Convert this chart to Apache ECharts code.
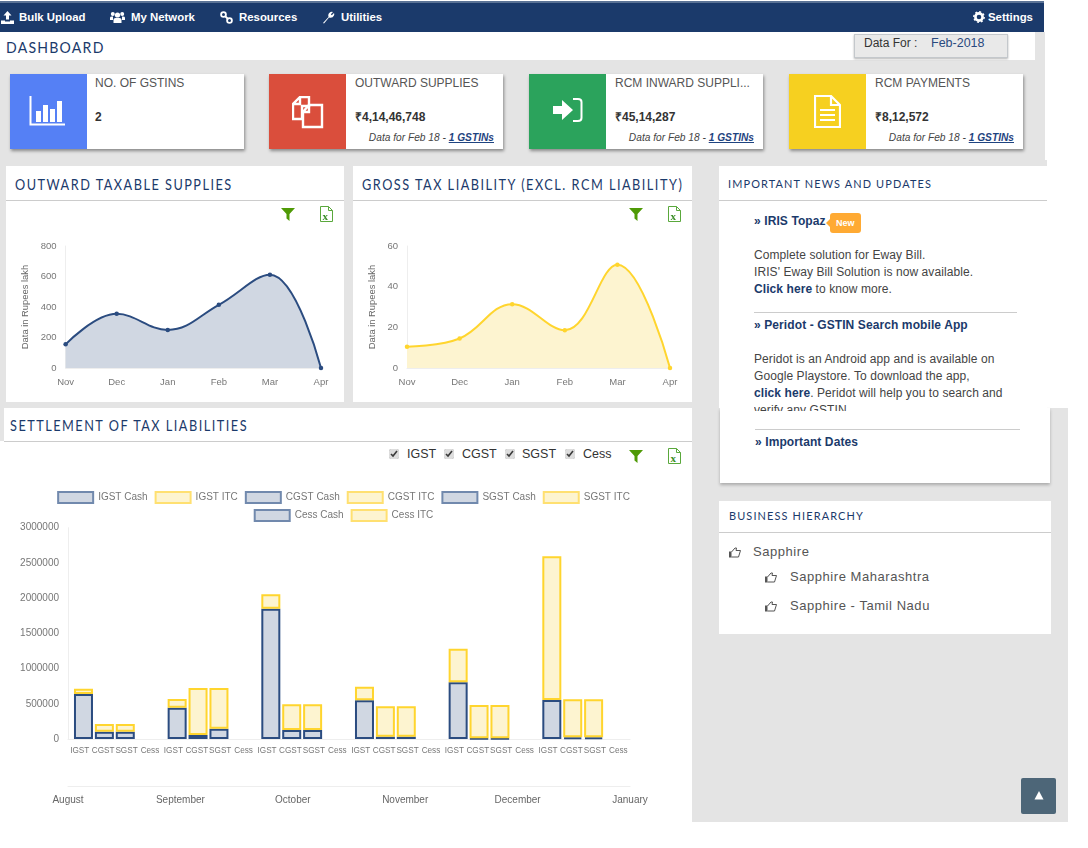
<!DOCTYPE html>
<html>
<head>
<meta charset="utf-8">
<title>Dashboard</title>
<script src="https://cdn.jsdelivr.net/npm/echarts@6/dist/echarts.min.js"></script>
<style>
html,body{margin:0;padding:0;background:#fff;}
body{width:1088px;height:848px;position:relative;overflow:hidden;font-family:"Liberation Sans",Arial,sans-serif;color:#444;}
.abs,.t{position:absolute;}
.t{white-space:nowrap;line-height:16px;}
.gray{position:absolute;background:#e4e4e4;}
.white{position:absolute;background:#fff;}
.nav{color:#fff;font-weight:bold;font-size:11.4px;top:9px;}
.head{font-family:Lato,"Noto Sans",sans-serif;color:#1b3a6b;font-size:15px;letter-spacing:1.75px;transform:scaleX(.848);transform-origin:left center;}
.sub{font-family:Lato,"Noto Sans",sans-serif;color:#1b3a6b;font-size:12px;letter-spacing:1.25px;transform:scaleX(.91);transform-origin:left center;}
.rule{position:absolute;height:1px;background:#ccc;}
.card{position:absolute;top:74px;height:75px;width:234px;background:#fff;box-shadow:1px 2px 3px rgba(0,0,0,.4);}
.swatch{position:absolute;left:0;top:0;width:77px;height:75px;}
.ctitle{left:86px;top:1px;font-size:12px;color:#555;}
.cval{left:86px;top:35px;font-size:12px;font-weight:bold;color:#333;}
.cfoot{right:9px;top:56px;font-size:10.2px;font-style:italic;color:#444;}
.cfoot b{color:#1f4480;text-decoration:underline;}
.news{font-size:12px;color:#444;letter-spacing:.08px;}
.nhead{font-size:12px;font-weight:bold;color:#1b3a6b;letter-spacing:.1px;}
.lnk{font-weight:bold;color:#1b3a6b;}
.chk{position:absolute;top:449px;width:10px;height:10px;margin:0;accent-color:#ddd;}
.lab{top:446px;font-size:12.5px;color:#333;}
.tree{font-size:13px;color:#555;letter-spacing:.55px;}
svg{position:absolute;}
</style>
</head>
<body>
<!-- page background blocks -->
<div class="gray" style="left:0;top:32px;width:1045px;height:376px"></div>
<div class="gray" style="left:1035px;top:160px;width:12px;height:6px"></div>
<div class="gray" style="left:0;top:408px;width:4px;height:33px"></div>
<div class="gray" style="left:692px;top:408px;width:376px;height:414px"></div>
<div class="gray" style="left:692px;top:166px;width:27px;height:242px"></div>

<!-- top bar -->
<div class="abs" style="left:0;top:1px;width:1044px;height:2px;background:#5b7396"></div>
<div class="abs" style="left:0;top:3px;width:1044px;height:29px;background:#1b3a6b"></div>
<div class="abs" style="left:0;top:3px;width:1044px;height:29px">
  <svg style="left:1px;top:8px" width="13" height="13" viewBox="0 0 13 13"><path d="M6.5 0 L10.5 4.5 H8 V8.5 H5 V4.5 H2.5 Z M0 9.5 H4 V10.5 H9 V9.5 H13 V13 H0 Z" fill="#fff"/></svg>
  <span class="t nav" style="left:19px;top:6px">Bulk Upload</span>
  <svg style="left:110px;top:8px" width="15" height="13" viewBox="0 0 15 13"><circle cx="7.5" cy="4" r="2.6" fill="#fff"/><circle cx="2.8" cy="3" r="2" fill="#fff"/><circle cx="12.2" cy="3" r="2" fill="#fff"/><path d="M3.5 12 V8.5 Q3.5 7 5.5 7 H9.5 Q11.5 7 11.5 8.5 V12 Z M0 9 V6.8 Q0 5.6 2 5.6 H3 V9 Z M15 9 V6.8 Q15 5.6 13 5.6 H12 V9 Z" fill="#fff"/></svg>
  <span class="t nav" style="left:131px;top:6px">My Network</span>
  <svg style="left:220px;top:8px" width="13" height="13" viewBox="0 0 13 13"><circle cx="3.5" cy="3.5" r="2.4" fill="none" stroke="#fff" stroke-width="1.8"/><circle cx="9.5" cy="9.5" r="2.4" fill="none" stroke="#fff" stroke-width="1.8"/><path d="M5 5 L8 8" stroke="#fff" stroke-width="1.8"/></svg>
  <span class="t nav" style="left:239px;top:6px">Resources</span>
  <svg style="left:322px;top:8px" width="13" height="13" viewBox="0 0 13 13"><path d="M1 12 L6.5 6 Q5.5 2.5 8.5 1 Q10 .4 11 1 L8.8 3.2 L9.8 4.2 L12 2 Q12.6 3 12 4.5 Q10.5 7.5 7 6.5 L2 12.5 Z" fill="#fff"/></svg>
  <span class="t nav" style="left:341px;top:6px">Utilities</span>
  <svg style="left:973px;top:8px" width="12" height="12" viewBox="0 0 12 12"><circle cx="6" cy="6" r="3.6" fill="none" stroke="#fff" stroke-width="2.6"/><circle cx="6" cy="6" r="5.2" fill="none" stroke="#fff" stroke-width="1.4" stroke-dasharray="2 2"/></svg>
  <span class="t nav" style="left:988px;top:6px">Settings</span>
</div>

<!-- dashboard strip -->
<div class="white" style="left:0;top:32px;width:1035px;height:28px"></div>
<span class="t" style="left:6px;top:39px;font-family:Lato,sans-serif;font-size:16px;letter-spacing:1.4px;color:#1b3a6b;transform:scaleX(.88);transform-origin:left center">DASHBOARD</span>
<div class="abs" style="left:854px;top:34px;width:152px;height:22px;background:#e9e9e9;border:1px solid #c4c8cc;box-shadow:0 1px 2px rgba(0,0,0,.3)"></div>
<span class="t" style="left:864px;top:35px;font-size:12px;color:#333">Data For :</span>
<span class="t" style="left:931px;top:35px;font-size:12.5px;color:#2a4a7f">Feb-2018</span>

<!-- summary cards -->
<div class="card" style="left:10px">
  <div class="swatch" style="background:#5580f5"></div>
  <svg style="left:19px;top:22px" width="38" height="30" viewBox="0 0 38 30"><path d="M1.5 0 V28.5 H36" fill="none" stroke="#fff" stroke-width="2"/><rect x="7" y="15" width="5" height="11" fill="#fff"/><rect x="14" y="9" width="5" height="17" fill="#fff"/><rect x="21" y="13" width="5" height="13" fill="#fff"/><rect x="28" y="5" width="5" height="21" fill="#fff"/></svg>
  <span class="t ctitle" style="left:85px">NO. OF GSTINS</span>
  <span class="t cval" style="left:85px">2</span>
</div>
<div class="card" style="left:269px">
  <div class="swatch" style="background:#da4e3c"></div>
  <svg style="left:23px;top:22px" width="32" height="33" viewBox="0 0 32 33"><path d="M8 1 H17 V10 H10 V23 H1 V8 Z M8 1 V8 H1" fill="none" stroke="#fff" stroke-width="2.4"/><path d="M17 9 H30 V31 H11 V16 Z M17 9 V16 H11" fill="none" stroke="#fff" stroke-width="2.4"/></svg>
  <span class="t ctitle">OUTWARD SUPPLIES</span>
  <span class="t cval">₹4,14,46,748</span>
  <span class="t cfoot">Data for Feb 18 - <b>1 GSTINs</b></span>
</div>
<div class="card" style="left:529px">
  <div class="swatch" style="background:#2ba35c"></div>
  <svg style="left:24px;top:24px" width="30" height="24" viewBox="0 0 30 24"><path d="M0 8 H9 V2 L20 12 L9 22 V16 H0 Z" fill="#fff"/><path d="M20 1 H25 Q28.5 1 28.5 4 V20 Q28.5 23 25 23 H20" fill="none" stroke="#fff" stroke-width="2"/></svg>
  <span class="t ctitle" style="">RCM INWARD SUPPLI...</span>
  <span class="t cval">₹45,14,287</span>
  <span class="t cfoot">Data for Feb 18 - <b>1 GSTINs</b></span>
</div>
<div class="card" style="left:789px">
  <div class="swatch" style="background:#f6d020"></div>
  <svg style="left:25px;top:21px" width="27" height="33" viewBox="0 0 27 33"><path d="M1 1 H17 L26 10 V32 H1 Z M17 1 V10 H26" fill="none" stroke="#fff" stroke-width="2.2"/><path d="M6 15 H21 M6 20 H21 M6 25 H21" stroke="#fff" stroke-width="2.2"/></svg>
  <span class="t ctitle">RCM PAYMENTS</span>
  <span class="t cval">₹8,12,572</span>
  <span class="t cfoot">Data for Feb 18 - <b>1 GSTINs</b></span>
</div>

<!-- chart panels -->
<div class="white" style="left:6px;top:166px;width:338px;height:236px"></div>
<span class="t head" style="left:15px;top:176px">OUTWARD TAXABLE SUPPLIES</span>
<div class="rule" style="left:6px;top:200px;width:338px"></div>
<div class="white" style="left:353px;top:166px;width:339px;height:236px"></div>
<span class="t head" style="left:362px;top:176px">GROSS TAX LIABILITY (EXCL. RCM LIABILITY)</span>
<div class="rule" style="left:353px;top:200px;width:339px"></div>
<div class="white" style="left:4px;top:408px;width:688px;height:414px"></div>
<span class="t head" style="left:10px;top:417px">SETTLEMENT OF TAX LIABILITIES</span>
<div class="rule" style="left:4px;top:441px;width:688px"></div>

<div id="chart_outward" class="abs" style="left:6px;top:200px;width:338px;height:202px"></div>
<div id="chart_gross" class="abs" style="left:353px;top:200px;width:339px;height:202px"></div>
<div id="chart_settle" class="abs" style="left:0;top:470px;width:687px;height:350px"></div>

<!-- filter and excel icons -->
<svg style="left:281px;top:208px" width="14" height="13" viewBox="0 0 14 13"><path d="M0 0 H14 L8.5 6 V13 L5.5 10.5 V6 Z" fill="#4f9a06"/></svg>
<svg style="left:320px;top:206px" width="13" height="16" viewBox="0 0 13 16"><path d="M.5 .5 H8.5 L12.5 4.5 V15.5 H.5 Z M8.5 .5 V4.5 H12.5" fill="#fff" stroke="#5aa83c"/><text x="2.5" y="13.5" font-size="11" font-weight="bold" font-family="Liberation Serif" fill="#3d8f2a">x</text></svg>
<svg style="left:629px;top:208px" width="14" height="13" viewBox="0 0 14 13"><path d="M0 0 H14 L8.5 6 V13 L5.5 10.5 V6 Z" fill="#4f9a06"/></svg>
<svg style="left:668px;top:206px" width="13" height="16" viewBox="0 0 13 16"><path d="M.5 .5 H8.5 L12.5 4.5 V15.5 H.5 Z M8.5 .5 V4.5 H12.5" fill="#fff" stroke="#5aa83c"/><text x="2.5" y="13.5" font-size="11" font-weight="bold" font-family="Liberation Serif" fill="#3d8f2a">x</text></svg>
<svg style="left:629px;top:450px" width="14" height="13" viewBox="0 0 14 13"><path d="M0 0 H14 L8.5 6 V13 L5.5 10.5 V6 Z" fill="#4f9a06"/></svg>
<svg style="left:668px;top:448px" width="13" height="16" viewBox="0 0 13 16"><path d="M.5 .5 H8.5 L12.5 4.5 V15.5 H.5 Z M8.5 .5 V4.5 H12.5" fill="#fff" stroke="#5aa83c"/><text x="2.5" y="13.5" font-size="11" font-weight="bold" font-family="Liberation Serif" fill="#3d8f2a">x</text></svg>

<input class="chk" type="checkbox" checked style="left:389px"><span class="t lab" style="left:407px">IGST</span>
<input class="chk" type="checkbox" checked style="left:444px"><span class="t lab" style="left:462px">CGST</span>
<input class="chk" type="checkbox" checked style="left:505px"><span class="t lab" style="left:522px">SGST</span>
<input class="chk" type="checkbox" checked style="left:565px"><span class="t lab" style="left:583px">Cess</span>

<!-- news -->
<div class="white" style="left:720px;top:408px;width:330px;height:75px;box-shadow:0 2px 3px rgba(0,0,0,.25)"></div>
<div class="white" style="left:719px;top:166px;width:328px;height:242px"></div>
<span class="t sub" style="left:728px;top:176px">IMPORTANT NEWS AND UPDATES</span>
<div class="rule" style="left:719px;top:200px;width:328px"></div>
<span class="t nhead" style="left:754px;top:213px">» IRIS Topaz</span>
<div class="abs" style="left:830px;top:213px;width:31px;height:20px;background:#ffaa33;border-radius:3px"></div>
<div class="abs" style="left:826px;top:219px;width:0;height:0;border:4px solid transparent;border-left:0;border-right:4px solid #ffaa33"></div>
<span class="t" style="left:836px;top:215px;font-size:9px;font-weight:bold;color:#fff">New</span>
<span class="t news" style="left:754px;top:247px">Complete solution for Eway Bill.</span>
<span class="t news" style="left:754px;top:264px">IRIS' Eway Bill Solution is now available.</span>
<span class="t news" style="left:754px;top:281px"><span class="lnk">Click here</span> to know more.</span>
<div class="rule" style="left:754px;top:312px;width:263px"></div>
<span class="t nhead" style="left:754px;top:317px">» Peridot - GSTIN Search mobile App</span>
<span class="t news" style="left:754px;top:351px">Peridot is an Android app and is available on</span>
<span class="t news" style="left:754px;top:368px">Google Playstore. To download the app,</span>
<span class="t news" style="left:754px;top:385px"><span class="lnk">click here</span>. Peridot will help you to search and</span>
<div class="abs" style="left:754px;top:405px;width:200px;height:6px;overflow:hidden"><span class="t news" style="left:0;top:-3px">verify any GSTIN.</span></div>
<div class="rule" style="left:755px;top:429px;width:265px"></div>
<span class="t nhead" style="left:755px;top:434px">» Important Dates</span>

<!-- hierarchy -->
<div class="white" style="left:719px;top:501px;width:332px;height:133px"></div>
<span class="t sub" style="left:729px;top:508px">BUSINESS HIERARCHY</span>
<div class="rule" style="left:719px;top:532px;width:332px"></div>
<span class="t tree" style="left:753px;top:544px">Sapphire</span>
<span class="t tree" style="left:790px;top:569px">Sapphire Maharashtra</span>
<span class="t tree" style="left:790px;top:598px">Sapphire - Tamil Nadu</span>
<svg style="left:729px;top:547px" width="12" height="11" viewBox="0 0 12 11"><path d="M0 4.5 H2.5 V10.5 H0 Z" fill="#555"/><path d="M2.5 5 L6 1 H7.5 L7 3.5 H11.5 L9.5 10 H2.5" fill="none" stroke="#555"/></svg>
<svg style="left:765px;top:572px" width="12" height="11" viewBox="0 0 12 11"><path d="M0 4.5 H2.5 V10.5 H0 Z" fill="#555"/><path d="M2.5 5 L6 1 H7.5 L7 3.5 H11.5 L9.5 10 H2.5" fill="none" stroke="#555"/></svg>
<svg style="left:765px;top:601px" width="12" height="11" viewBox="0 0 12 11"><path d="M0 4.5 H2.5 V10.5 H0 Z" fill="#555"/><path d="M2.5 5 L6 1 H7.5 L7 3.5 H11.5 L9.5 10 H2.5" fill="none" stroke="#555"/></svg>

<!-- back to top -->
<div class="abs" style="left:1021px;top:778px;width:35px;height:36px;background:#4d6678;border-radius:2px"></div>
<svg style="left:1034px;top:790px" width="10" height="10" viewBox="0 0 10 10"><path d="M5 1 L9.5 9.5 H.5 Z" fill="#fff"/></svg>

<script>
var lineMonths = ['Nov', 'Dec', 'Jan', 'Feb', 'Mar', 'Apr'];
var outwardValues = [155, 355, 250, 414, 612, 0];
var grossValues = [10.5, 14.5, 31.4, 18.6, 50.8, 0];

var barMonths = ['August', 'September', 'October', 'November', 'December', 'January'];
var taxNames = ['IGST', 'CGST', 'SGST', 'Cess'];
var igstCash = [639000, 445000, 1850000, 549000, 804000, 554000];
var igstItc = [76000, 123000, 204000, 194000, 478000, 2039000];
var cgstCash = [104000, 57000, 128000, 33000, 9000, 24000];
var cgstItc = [109000, 667000, 364000, 431000, 474000, 539000];
var sgstCash = [104000, 147000, 128000, 33000, 9000, 24000];
var sgstItc = [109000, 577000, 364000, 431000, 474000, 539000];
var cessCash = [0, 0, 0, 0, 0, 0];
var cessItc = [0, 0, 0, 0, 0, 0];

var labelFont = '"Liberation Sans", Arial, sans-serif';
var navy = '#2b4c80';
var yellow = '#ffd52e';
var navyFill = '#d0d7e2';
var yellowFill = '#fdf4d0';

function lineChart(id, values, yMax, yStep, gridLeft, gridRight, color, fill){
	var chart = echarts.init(document.getElementById(id));
	chart.setOption({
		animation: false,
		grid: { left: gridLeft, right: gridRight, top: 46, height: 122 },
		xAxis: {
			type: 'category',
			boundaryGap: false,
			data: lineMonths,
			axisLine: { lineStyle: { color: '#eee' } },
			axisTick: { show: false },
			axisLabel: { color: '#777', fontSize: 9.5, fontFamily: labelFont, margin: 9 }
		},
		yAxis: {
			type: 'value',
			min: 0,
			max: yMax,
			interval: yStep,
			name: 'Data in Rupees lakh',
			nameLocation: 'middle',
			nameRotate: 90,
			nameGap: gridLeft - 27,
			nameTextStyle: { color: '#666', fontSize: 9.4, fontFamily: labelFont },
			splitLine: { show: false },
			axisLine: { show: true, lineStyle: { color: '#eee' } },
			axisTick: { show: false },
			axisLabel: { color: '#777', fontSize: 9.5, fontFamily: labelFont, margin: 9 }
		},
		series: [{
			type: 'line',
			data: values,
			smooth: 0.4,
			symbol: 'circle',
			symbolSize: 4.5,
			lineStyle: { color: color, width: 2 },
			itemStyle: { color: color },
			areaStyle: { color: fill, opacity: 1 }
		}]
	});
}

lineChart('chart_outward', outwardValues, 800, 200, 59.6, 23, '#2b4c80', navyFill);
lineChart('chart_gross', grossValues, 60, 20, 54, 22, '#ffd52e', yellowFill);

function stackSeries(name, values, stack, color, fill){
	return {
		name: name,
		type: 'bar',
		stack: stack,
		xAxisIndex: 0,
		yAxisIndex: 0,
		barWidth: 19,
		barGap: '10%',
		// no bar at all for an empty value, a zero bar would still draw its border
		data: values.map(function(v){ return v === 0 ? null : v; }),
		itemStyle: { color: fill, borderColor: color, borderWidth: 2 }
	};
}

function legendEntry(name, isCash){
	return { name: name, itemStyle: { borderColor: isCash ? '#7189ad' : '#ffe071', borderWidth: 2 } };
}

function legendRow(top, entries){
	return {
		top: top,
		left: 'center',
		icon: 'rect',
		itemWidth: 35,
		itemHeight: 11,
		itemGap: 7,
		textStyle: { color: '#777', fontSize: 10, fontFamily: labelFont },
		data: entries
	};
}

var tickLabels = [];
barMonths.forEach(function(){ tickLabels = tickLabels.concat(taxNames); });

var settle = echarts.init(document.getElementById('chart_settle'));
settle.setOption({
	animation: false,
	legend: [
		legendRow(16, [legendEntry('IGST Cash', true), legendEntry('IGST ITC', false), legendEntry('CGST Cash', true), legendEntry('CGST ITC', false), legendEntry('SGST Cash', true), legendEntry('SGST ITC', false)]),
		legendRow(34, [legendEntry('Cess Cash', true), legendEntry('Cess ITC', false)])
	],
	grid: [
		{ left: 68, width: 562, top: 57.7, height: 211.3 },
		{ left: 68, width: 562, top: 57.7, height: 211.3 }
	],
	xAxis: [
		{
			gridIndex: 0,
			type: 'category',
			data: barMonths,
			axisLine: { lineStyle: { color: '#eee' } },
			axisTick: { show: false },
			axisLabel: { show: false }
		},
		{
			gridIndex: 1,
			type: 'category',
			data: tickLabels,
			axisLine: { show: false },
			axisTick: { show: false },
			axisLabel: { interval: 0, color: '#777', fontSize: 8.2, fontFamily: labelFont, margin: 8 }
		},
		{
			gridIndex: 1,
			type: 'category',
			position: 'bottom',
			offset: 47,
			boundaryGap: false,
			data: barMonths,
			axisLine: { show: true, lineStyle: { color: '#eee' } },
			axisTick: { show: false },
			axisLabel: { interval: 0, color: '#666', fontSize: 10, fontFamily: labelFont, margin: 9 }
		}
	],
	yAxis: [
		{
			gridIndex: 0,
			type: 'value',
			min: 0,
			max: 3000000,
			interval: 500000,
			splitLine: { show: false },
			axisLine: { show: true, lineStyle: { color: '#eee' } },
			axisTick: { show: false },
			axisLabel: {
				color: '#777',
				fontSize: 10,
				fontFamily: labelFont,
				margin: 9,
				formatter: function(v){ return String(v); }
			}
		},
		{ gridIndex: 1, type: 'value', show: false }
	],
	series: [
		stackSeries('IGST Cash', igstCash, 'IGST', navy, navyFill),
		stackSeries('IGST ITC', igstItc, 'IGST', yellow, yellowFill),
		stackSeries('CGST Cash', cgstCash, 'CGST', navy, navyFill),
		stackSeries('CGST ITC', cgstItc, 'CGST', yellow, yellowFill),
		stackSeries('SGST Cash', sgstCash, 'SGST', navy, navyFill),
		stackSeries('SGST ITC', sgstItc, 'SGST', yellow, yellowFill),
		stackSeries('Cess Cash', cessCash, 'Cess', navy, navyFill),
		stackSeries('Cess ITC', cessItc, 'Cess', yellow, yellowFill)
	]
});
</script>
</body>
</html>
